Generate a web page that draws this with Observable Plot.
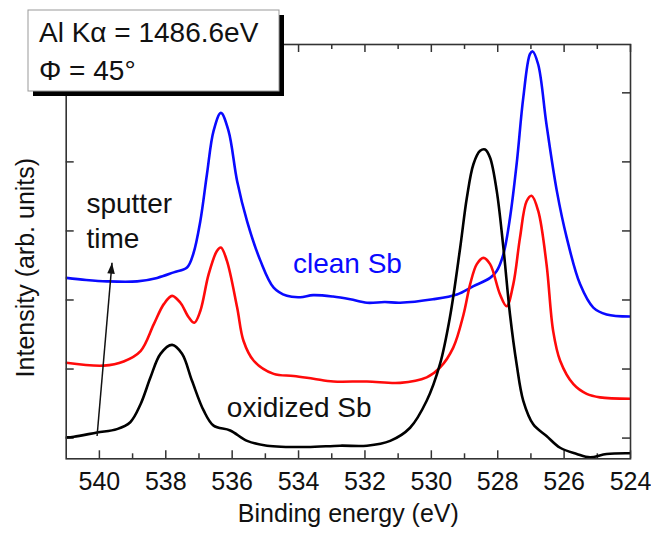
<!DOCTYPE html>
<html>
<head>
<meta charset="utf-8">
<script src="https://cdn.jsdelivr.net/npm/d3@7"></script>
<script src="https://cdn.jsdelivr.net/npm/@observablehq/plot@0.6"></script>
<style>
  html, body { margin: 0; padding: 0; background: #fff; }
  #chart svg { display: block; }
</style>
</head>
<body>
<div id="chart"></div>
<script>
// ---- data (binding energy in eV, intensity in arbitrary units) ----
const cleanEnergy = [541.0, 540.4, 539.77, 538.86, 538.26, 537.76, 537.36, 537.17, 536.96, 536.76, 536.56, 536.34, 536.11, 535.85, 535.55, 535.15, 534.75, 534.35, 533.95, 533.56, 532.96, 532.44, 531.94, 531.4, 530.94, 529.95, 529.23, 528.73, 528.23, 528.03, 527.83, 527.63, 527.43, 527.23, 527.03, 526.95, 526.78, 526.53, 526.22, 525.92, 525.52, 525.12, 524.72, 524.0];
const cleanIntensity = [3.32, 3.29, 3.27, 3.27, 3.32, 3.40, 3.47, 3.67, 4.14, 4.82, 5.45, 5.71, 5.45, 4.72, 4.14, 3.57, 3.18, 3.06, 3.04, 3.07, 3.05, 3.01, 2.96, 2.97, 2.96, 3.01, 3.08, 3.20, 3.32, 3.42, 3.66, 4.19, 4.97, 5.93, 6.56, 6.60, 6.41, 5.54, 4.58, 3.90, 3.23, 2.89, 2.79, 2.76];

const midEnergy = [541.0, 539.87, 539.27, 538.76, 538.36, 538.06, 537.81, 537.56, 537.31, 537.14, 536.96, 536.71, 536.46, 536.34, 536.16, 535.85, 535.66, 535.35, 534.75, 534.15, 533.55, 532.95, 531.94, 530.94, 530.14, 529.74, 529.34, 529.03, 528.83, 528.63, 528.43, 528.23, 527.93, 527.73, 527.53, 527.33, 527.13, 526.98, 526.78, 526.53, 526.33, 526.12, 525.72, 525.32, 524.92, 524.0];
const midIntensity = [2.09, 2.05, 2.11, 2.26, 2.65, 2.94, 3.06, 2.96, 2.75, 2.67, 2.84, 3.37, 3.71, 3.76, 3.57, 2.89, 2.41, 2.12, 1.93, 1.90, 1.86, 1.82, 1.82, 1.80, 1.88, 2.02, 2.31, 2.79, 3.23, 3.52, 3.61, 3.52, 3.08, 2.91, 3.23, 3.90, 4.43, 4.51, 4.29, 3.52, 2.55, 2.12, 1.78, 1.64, 1.59, 1.57];

const oxidizedEnergy = [541.0, 540.77, 540.07, 539.47, 539.07, 538.76, 538.46, 538.16, 537.81, 537.51, 537.21, 536.86, 536.56, 536.06, 535.55, 534.95, 533.75, 532.75, 531.94, 531.24, 530.64, 530.14, 529.74, 529.44, 529.13, 528.93, 528.73, 528.53, 528.38, 528.23, 528.03, 527.83, 527.63, 527.43, 527.23, 526.93, 526.53, 526.12, 525.62, 525.22, 524.72, 524.0];
const oxidizedIntensity = [1.01, 1.02, 1.08, 1.13, 1.23, 1.49, 1.88, 2.22, 2.35, 2.22, 1.83, 1.40, 1.18, 1.11, 0.96, 0.89, 0.87, 0.89, 0.89, 0.96, 1.15, 1.54, 2.07, 2.75, 3.76, 4.48, 4.97, 5.16, 5.18, 5.06, 4.58, 3.76, 2.79, 2.07, 1.54, 1.20, 1.03, 0.86, 0.77, 0.72, 0.77, 0.78];

const seriesNames = ["clean", "intermediate", "oxidized"];
const seriesColors = ["#0a0aff", "#ff0a0a", "#000000"];

const xMajorTicks = [540, 538, 536, 534, 532, 530, 528, 526, 524];
const xMinorTicks = [539, 537, 535, 533, 531, 529, 527, 525];
const yTicks = [1, 2, 3, 4, 5, 6];

const xLabel = "Binding energy (eV)";
const yLabel = "Intensity (arb. units)";
const legendLines = ["Al K\u03B1 = 1486.6eV", "\u03A6 = 45\u00B0"];

// annotation anchors (data units)
const cleanLabel = {x: 534.17, y: 3.39, text: "clean Sb"};
const oxidizedLabel = {x: 536.16, y: 1.30, text: "oxidized Sb"};
const sputterLabel = {x: 540.39, y: 3.76, text: "sputter\ntime"};
const sputterArrow = {x1: 540.07, y1: 1.03, x2: 539.62, y2: 3.54};

// ---- build table ----
const rows = [];
[[cleanEnergy, cleanIntensity], [midEnergy, midIntensity], [oxidizedEnergy, oxidizedIntensity]]
  .forEach(([E, I], k) => E.forEach((e, i) => rows.push({series: seriesNames[k], energy: e, intensity: I[i]})));

const W = 651, H = 533;
const mL = 65.7, mR = 21, mT = 44, mB = 74.7;
const plotW = W - mL - mR, plotH = H - mT - mB;
const font = "Liberation Sans, Arial, Helvetica, sans-serif";

function filledHead(color) {
  const m = d3.create("svg:marker")
    .attr("viewBox", "-10 -5 10 10")
    .attr("markerWidth", 10).attr("markerHeight", 10)
    .attr("markerUnits", "userSpaceOnUse")
    .attr("orient", "auto")
    .attr("overflow", "visible");
  m.append("path").attr("d", "M-11,-3.8L0,0L-11,3.8Z").attr("fill", color).attr("stroke", "none");
  return m.node();
}

const chart = Plot.plot({
  width: W,
  height: H,
  marginLeft: mL, marginRight: mR, marginTop: mT, marginBottom: mB,
  style: {fontFamily: font, fontSize: "24px", background: "#fff", color: "#111"},
  x: {domain: [541, 524], axis: null},
  y: {domain: [0.7, 6.7], axis: null},
  color: {domain: seriesNames, range: seriesColors},
  marks: [
    // inward ticks, bottom and top
    Plot.tickX(xMajorTicks, {x: d => d, insetTop: plotH - 8, stroke: "#333", strokeWidth: 1.5}),
    Plot.tickX(xMinorTicks, {x: d => d, insetTop: plotH - 5, stroke: "#333", strokeWidth: 1.5}),
    Plot.tickX(xMajorTicks, {x: d => d, insetBottom: plotH - 8, stroke: "#333", strokeWidth: 1.5}),
    Plot.tickX(xMinorTicks, {x: d => d, insetBottom: plotH - 5, stroke: "#333", strokeWidth: 1.5}),
    // inward ticks, left and right
    Plot.tickY(yTicks, {y: d => d, insetRight: plotW - 8, stroke: "#333", strokeWidth: 1.5}),
    Plot.tickY(yTicks, {y: d => d, insetLeft: plotW - 8, stroke: "#333", strokeWidth: 1.5}),
    Plot.axisX({ticks: xMajorTicks, tickSize: 0, tickPadding: 13, tickFormat: d => String(d), label: null, fontSize: 25, fill: "#111"}),
    Plot.line(rows, {x: "energy", y: "intensity", z: "series", stroke: "series", strokeWidth: 2.6, curve: "catmull-rom", clip: true}),
    Plot.frame({stroke: "#333", strokeWidth: 1.6}),
    // annotations
    Plot.text([cleanLabel], {x: "x", y: "y", text: "text", textAnchor: "start", lineAnchor: "bottom", fill: seriesColors[0], fontSize: 28}),
    Plot.text([oxidizedLabel], {x: "x", y: "y", text: "text", textAnchor: "start", lineAnchor: "bottom", fill: "#111", fontSize: 28}),
    Plot.text([sputterLabel], {x: "x", y: "y", text: "text", textAnchor: "start", lineAnchor: "bottom", lineHeight: 1.25, fill: "#111", fontSize: 28}),
    Plot.link([sputterArrow], {x1: "x1", y1: "y1", x2: "x2", y2: "y2", stroke: "#111", strokeWidth: 1.5, markerEnd: filledHead}),
    // axis titles
    Plot.text([xLabel], {text: d => d, frameAnchor: "bottom", textAnchor: "middle", lineAnchor: "bottom", dy: 521 - (H - mB), fontSize: 25, fill: "#111"}),
    Plot.text([yLabel], {text: d => d, frameAnchor: "left", textAnchor: "middle", rotate: -90, lineAnchor: "bottom", dx: 34 - mL, dy: 16, fontSize: 25, fill: "#111"})
  ]
});

document.getElementById("chart").appendChild(chart);

// legend box (top-left) with drop shadow
const svg = d3.select(chart);
const box = {x: 28, y: 10, w: 251, h: 81, shadow: 5};
const g = svg.append("g").attr("text-anchor", "start");
g.append("rect").attr("x", box.x + box.shadow).attr("y", box.y + box.shadow).attr("width", box.w).attr("height", box.h).attr("fill", "#000");
g.append("rect").attr("x", box.x).attr("y", box.y).attr("width", box.w).attr("height", box.h).attr("fill", "#fff").attr("stroke", "#999").attr("stroke-width", 1);
g.append("text").attr("x", 39).attr("y", 42).attr("text-anchor", "start").attr("font-size", 28).attr("font-family", font).attr("fill", "#111").text(legendLines[0]);
g.append("text").attr("x", 39).attr("y", 80).attr("text-anchor", "start").attr("font-size", 28).attr("font-family", font).attr("fill", "#111").text(legendLines[1]);
</script>
</body>
</html>
